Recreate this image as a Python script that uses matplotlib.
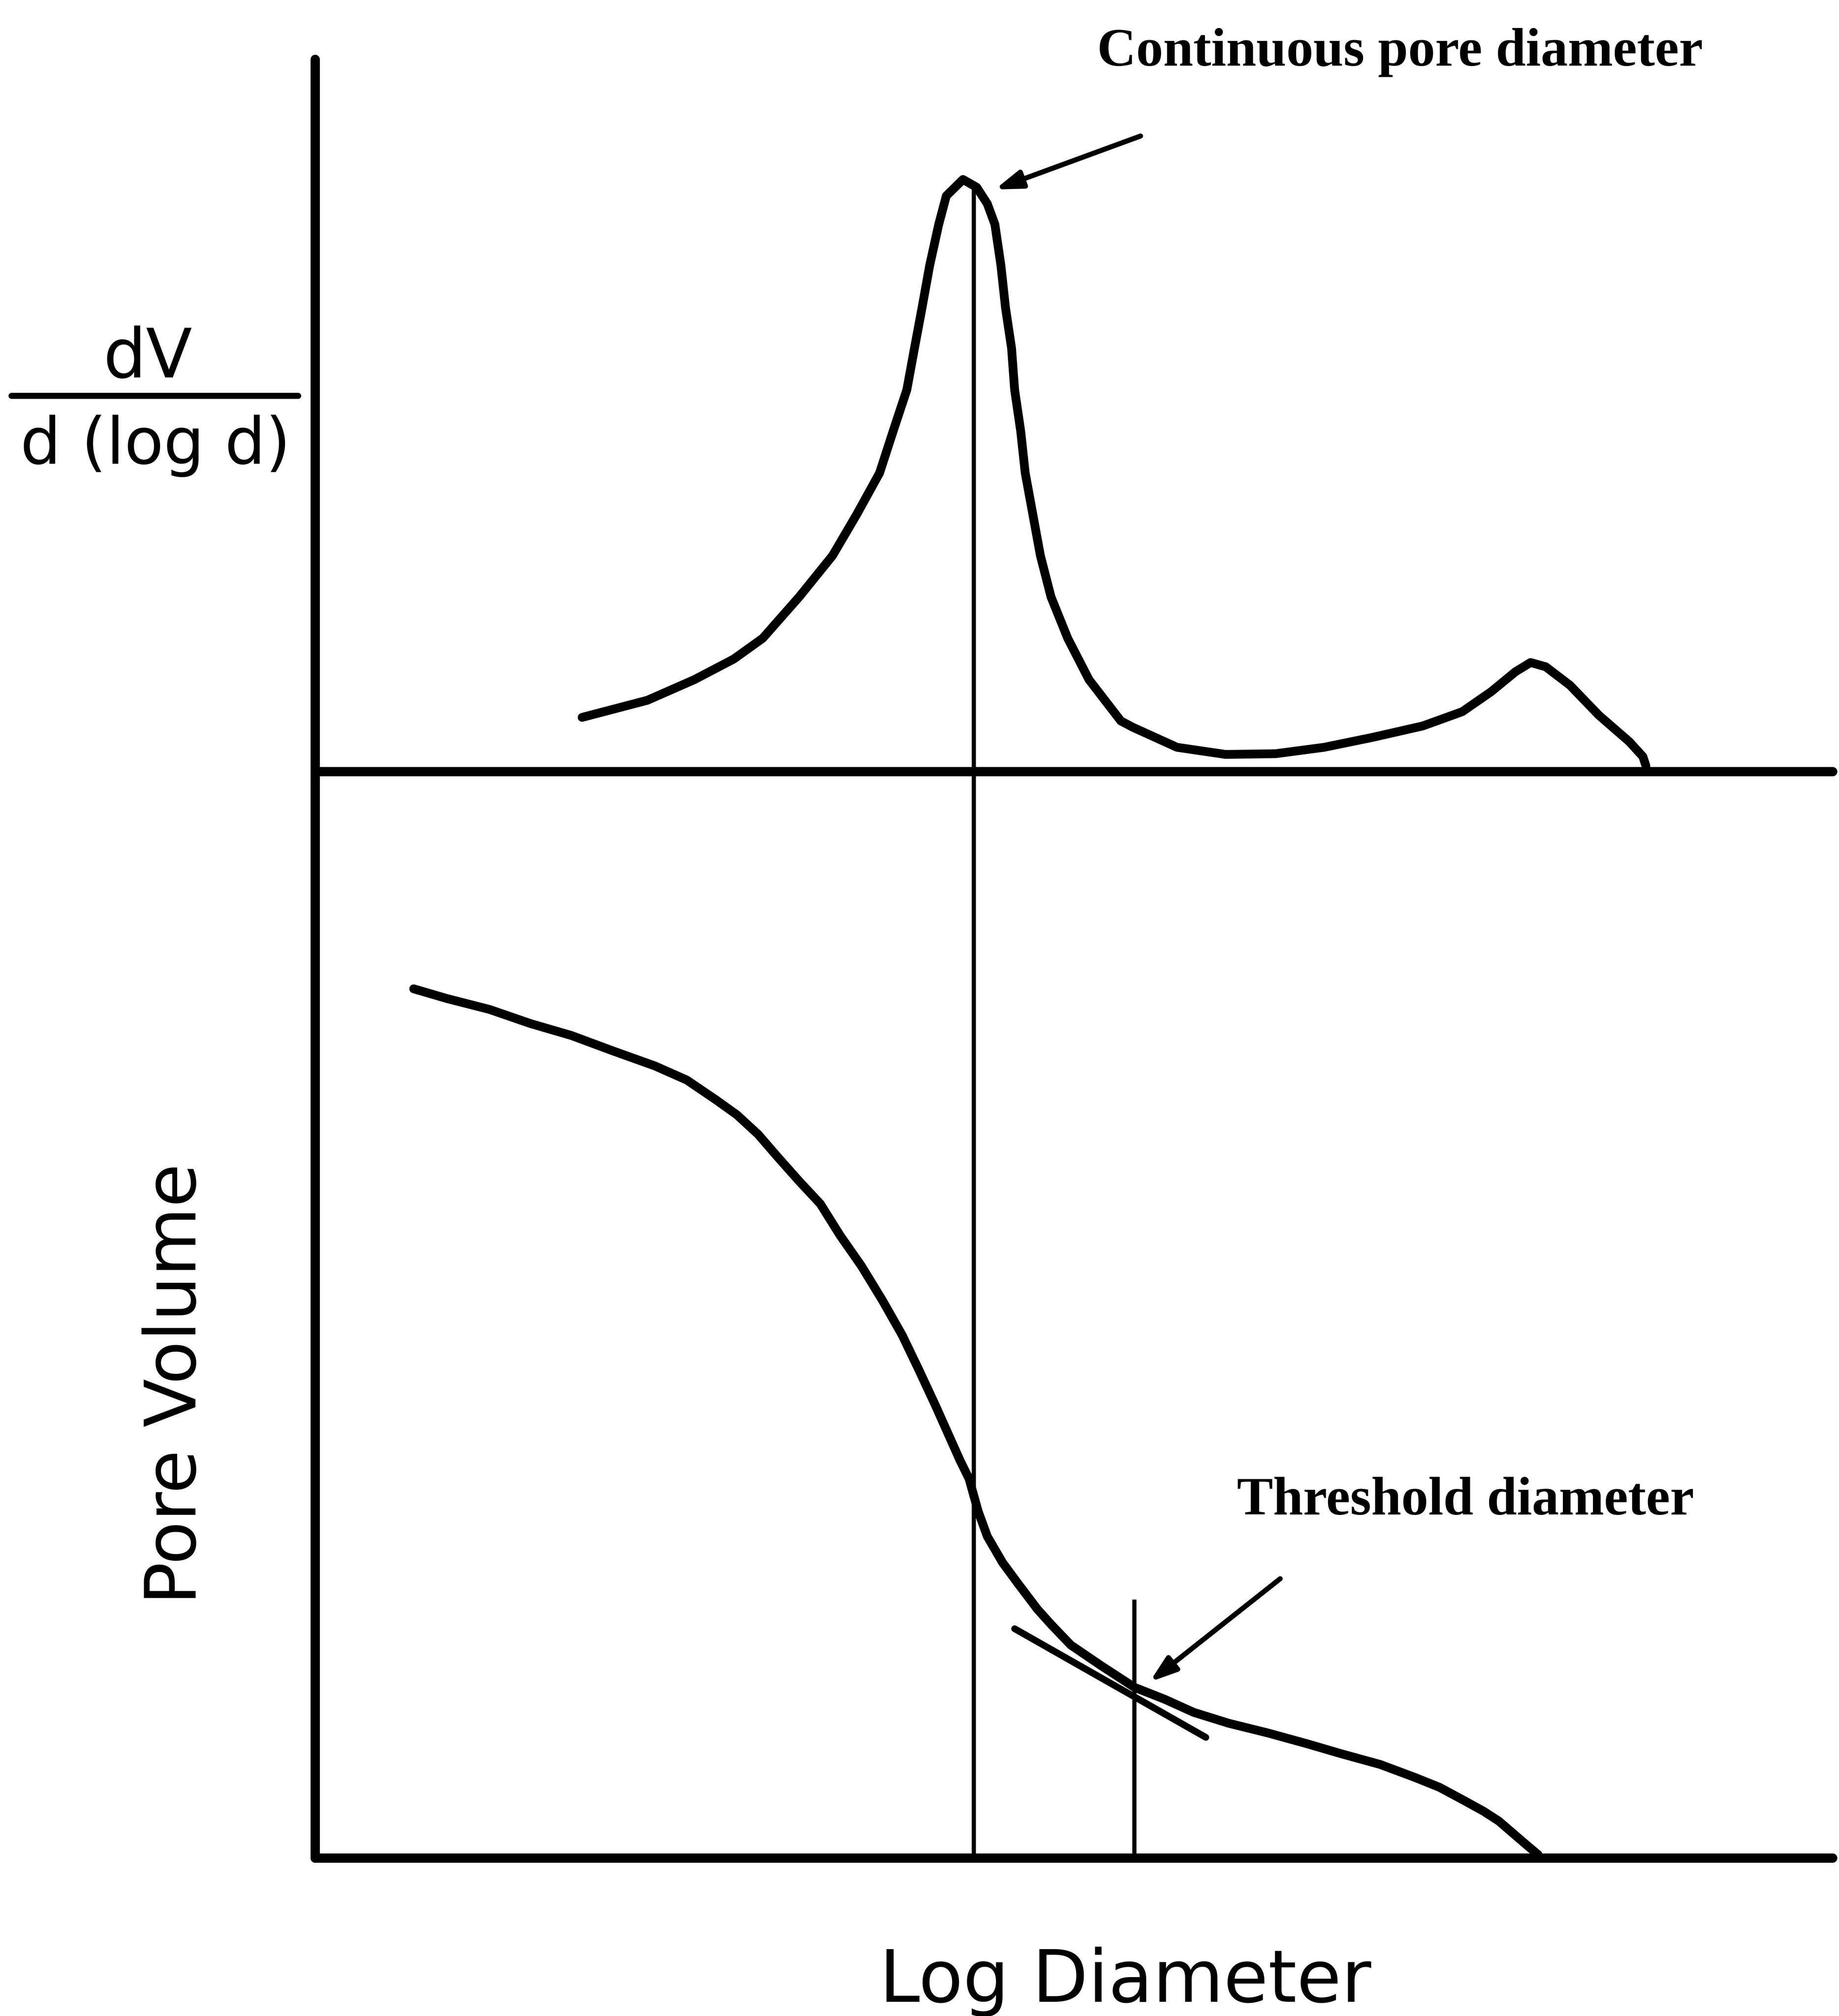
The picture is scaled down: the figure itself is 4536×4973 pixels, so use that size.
import matplotlib
matplotlib.use("Agg")
import matplotlib.pyplot as plt
from matplotlib.lines import Line2D

# Pore size distribution sketch: differential curve (top) and cumulative intrusion (bottom)
# x is log diameter in arbitrary units, y values are arbitrary units (0-10)

# differential curve dV/d(log d)
dv_x = [1.76, 2.19, 2.50, 2.76, 2.95, 3.19, 3.41, 3.57, 3.72, 3.81, 3.90, 3.95,
        4.00, 4.05, 4.11, 4.16, 4.27, 4.36, 4.43, 4.48, 4.52, 4.55, 4.59, 4.61,
        4.65, 4.68, 4.73, 4.78, 4.85, 4.96, 5.10, 5.31, 5.39, 5.68, 6.00, 6.33,
        6.65, 6.97, 7.30, 7.56, 7.75, 7.91, 8.01, 8.11, 8.27, 8.46, 8.66, 8.75, 8.77]
dv_y = [0.76, 1.00, 1.29, 1.58, 1.87, 2.45, 3.03, 3.61, 4.19, 4.78, 5.36, 5.94,
        6.51, 7.10, 7.68, 8.08, 8.31, 8.20, 7.97, 7.68, 7.10, 6.51, 5.94, 5.36,
        4.78, 4.19, 3.61, 3.03, 2.45, 1.87, 1.29, 0.71, 0.62, 0.34, 0.24, 0.25,
        0.34, 0.48, 0.64, 0.84, 1.12, 1.40, 1.53, 1.47, 1.21, 0.79, 0.42, 0.21, 0.08]

# cumulative pore volume
pv_x = [0.65, 0.87, 1.15, 1.42, 1.69, 1.96, 2.24, 2.45, 2.64, 2.78, 2.92, 3.05,
        3.19, 3.33, 3.46, 3.60, 3.74, 3.87, 3.98, 4.09, 4.17, 4.25, 4.31, 4.37,
        4.43, 4.53, 4.63, 4.76, 4.85, 4.98, 5.18, 5.40, 5.60, 5.79, 6.02, 6.28,
        6.54, 6.76, 7.02, 7.25, 7.41, 7.57, 7.70, 7.80, 7.90, 8.00, 8.06]
pv_y = [8.00, 7.91, 7.81, 7.68, 7.57, 7.43, 7.29, 7.16, 6.98, 6.84, 6.66, 6.45,
        6.23, 6.02, 5.73, 5.45, 5.13, 4.81, 4.49, 4.16, 3.91, 3.66, 3.49, 3.19,
        2.96, 2.72, 2.53, 2.29, 2.15, 1.96, 1.77, 1.57, 1.46, 1.34, 1.24, 1.15,
        1.05, 0.96, 0.86, 0.74, 0.65, 0.53, 0.43, 0.34, 0.22, 0.10, 0.03]

# marked diameters
continuous_x = 4.34
continuous_peak = 8.25
threshold_x = 5.40
threshold_top = 2.36

# tangent drawn at the threshold point
tangent_x = [4.61, 5.87]
tangent_y = [2.11, 1.11]

# arrows: (tail, tip)
cont_arrow = ((5.44, 8.92), (4.48, 8.17))
thr_arrow = ((6.36, 2.57), (5.50, 1.62))

fig = plt.figure(figsize=(4536 / 300, 4973 / 300), dpi=300)

ax_top = fig.add_axes([0.1713, 0.6173, 0.8252, 0.3534])
ax_bot = fig.add_axes([0.1713, 0.0784, 0.8252, 0.5389])

for ax in (ax_top, ax_bot):
    ax.set_xlim(0, 10)
    ax.set_ylim(0, 10)
    ax.set_xticks([])
    ax.set_yticks([])
    ax.patch.set_visible(False)
    for side in ("top", "right"):
        ax.spines[side].set_visible(False)
    for side in ("left", "bottom"):
        ax.spines[side].set_linewidth(5.5)
        ax.spines[side].set_capstyle("round")

curve_kw = dict(color="black", lw=5.2, solid_capstyle="round", solid_joinstyle="round")

ax_top.plot(dv_x, dv_y, **curve_kw)
ax_bot.plot(pv_x, pv_y, **curve_kw)

# vertical guide lines
ax_top.plot([continuous_x, continuous_x], [0, continuous_peak], color="black", lw=2.5)
ax_bot.plot([continuous_x, continuous_x], [0, 10], color="black", lw=2.5)
ax_bot.plot([threshold_x, threshold_x], [0, threshold_top], color="black", lw=2.5)

ax_bot.plot(tangent_x, tangent_y, color="black", lw=4, solid_capstyle="round")

arrow_kw = dict(arrowstyle="-|>,head_length=0.65,head_width=0.22", lw=3,
                color="black", shrinkA=0, shrinkB=0, mutation_scale=20)
ax_top.annotate("", xy=cont_arrow[1], xytext=cont_arrow[0], arrowprops=arrow_kw,
                annotation_clip=False)
ax_bot.annotate("", xy=thr_arrow[1], xytext=thr_arrow[0], arrowprops=arrow_kw,
                annotation_clip=False)

serif = dict(family="Liberation Serif", weight="bold", fontsize=32,
             ha="center", va="baseline", clip_on=False)
ax_top.text(7.15, 9.91, "Continuous pore diameter", **serif)
ax_bot.text(7.58, 3.16, "Threshold diameter", **serif)

# axis labels
sans = dict(family="DejaVu Sans", color="black")
fig.text(0.0804, 0.813, "dV", ha="center", va="baseline", fontsize=40, **sans)
fig.add_artist(Line2D([0.0062, 0.162], [0.8038, 0.8038], color="black", lw=3.6,
                      solid_capstyle="round"))
fig.text(0.0846, 0.770, "d (log d)", ha="center", va="baseline", fontsize=38, **sans)
fig.text(0.0958, 0.3135, "Pore Volume", ha="center", va="center", rotation=90,
         fontsize=42, **sans)
fig.text(0.612, 0.007, "Log Diameter", ha="center", va="baseline", fontsize=43, **sans)

fig.savefig("out.png", dpi=300, facecolor="white")
